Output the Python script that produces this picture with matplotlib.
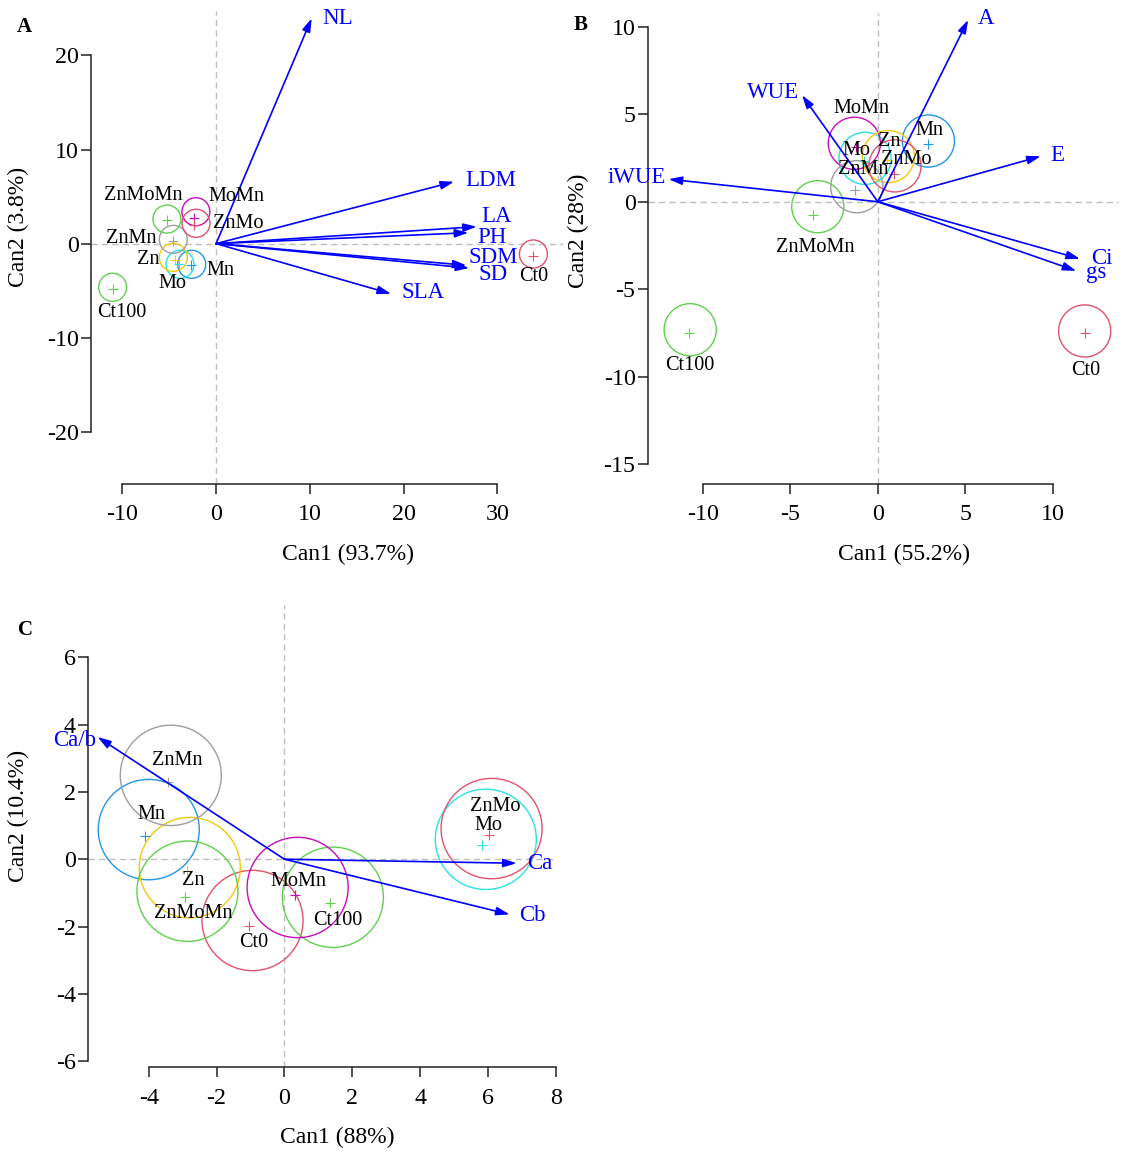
import matplotlib
matplotlib.use('Agg')
import matplotlib.pyplot as plt
from matplotlib.patches import Ellipse

plt.rcParams['font.family'] = ['Liberation Serif', 'DejaVu Serif']
plt.rcParams['axes.unicode_minus'] = False

# groups (alphabetical, R palette recycled)
groups = ['Ct0', 'Ct100', 'Mn', 'Mo', 'MoMn', 'Zn', 'ZnMn', 'ZnMo', 'ZnMoMn']
group_colors = ['#DF536B', '#61D04F', '#2297E6', '#28E2E5', '#CD0BBC',
                '#F5C710', '#9E9E9E', '#DF536B', '#61D04F']
radius = 1.49

# ---- panel A: growth traits ----
a_circle_x = [33.84, -11.03, -2.60, -3.85, -2.15, -4.56, -4.56, -2.14, -5.24]
a_circle_y = [-1.10, -4.64, -2.20, -2.20, 3.39, -1.46, 0.45, 2.16, 2.61]
a_point_x = [33.84, -11.03, -2.71, -3.93, -2.36, -4.38, -4.63, -2.36, -5.24]
a_point_y = [-1.32, -4.83, -2.27, -2.20, 2.75, -1.74, 0.28, 1.98, 2.51]
a_label_x = [33.84, -10.10, 0.50, -4.68, 2.20, -7.23, -9.00, 2.37, -7.80]
a_label_y = [-3.52, -7.34, -2.81, -4.22, 5.06, -1.67, 0.56, 2.16, 5.16]
a_vars = ['NL', 'LDM', 'LA', 'PH', 'SDM', 'SD', 'SLA']
a_vec_x = [10.20, 25.38, 27.80, 26.90, 26.70, 27.00, 18.66]
a_vec_y = [23.95, 6.58, 1.80, 1.16, -2.30, -2.60, -5.33]
a_vlab_x = [13.00, 29.27, 29.86, 29.40, 29.57, 29.59, 22.07]
a_vlab_y = [23.88, 6.76, 2.86, 0.67, -1.46, -3.23, -5.22]
a_xticks = [-10, 0, 10, 20, 30]
a_yticks = [-20, -10, 0, 10, 20]

# ---- panel B: gas exchange ----
b_circle_x = [11.82, -10.72, 2.89, -0.73, -1.34, 0.60, -1.20, 0.98, -3.43]
b_circle_y = [-7.38, -7.31, 3.47, 2.48, 3.34, 2.58, 0.86, 2.05, -0.28]
b_point_x = [11.86, -10.77, 2.85, -0.80, -1.25, 0.55, -1.30, 0.93, -3.69]
b_point_y = [-7.48, -7.48, 3.30, 2.30, 3.15, 2.40, 0.67, 1.57, -0.75]
b_label_x = [11.86, -10.77, 2.95, -1.21, -0.92, 0.63, -0.86, 1.62, -3.57]
b_label_y = [-9.66, -9.35, 4.06, 2.92, 5.34, 3.43, 1.82, 2.43, -2.60]
b_vars = ['A', 'WUE', 'iWUE', 'E', 'Ci', 'gs']
b_vec_x = [5.16, -4.33, -11.95, 9.31, 11.55, 11.34]
b_vec_y = [10.39, 6.09, 1.29, 2.60, -3.26, -3.95]
b_vlab_x = [6.21, -5.99, -13.75, 10.24, 12.79, 12.48]
b_vlab_y = [10.45, 6.23, 1.39, 2.64, -3.22, -4.05]
b_xticks = [-10, -5, 0, 5, 10]
b_yticks = [-15, -10, -5, 0, 5, 10]

# ---- panel C: chlorophyll ----
c_circle_x = [-0.94, 1.43, -4.00, 5.94, 0.39, -2.79, -3.35, 6.11, -2.86]
c_circle_y = [-1.82, -1.13, 0.88, 0.59, -0.84, -0.25, 2.49, 0.91, -0.95]
c_point_x = [-1.04, 1.34, -4.10, 5.84, 0.30, -2.86, -3.42, 6.02, -2.94]
c_point_y = [-1.98, -1.31, 0.70, 0.42, -1.05, -0.34, 2.28, 0.72, -1.11]
c_label_x = [-0.90, 1.57, -3.92, 6.02, 0.41, -2.70, -3.17, 6.23, -2.70]
c_label_y = [-2.47, -1.82, 1.32, 1.00, -0.65, -0.63, 2.92, 1.57, -1.61]
c_vars = ['Ca/b', 'Ca', 'Cb']
c_vec_x = [-5.51, 6.85, 6.64]
c_vec_y = [3.63, -0.12, -1.64]
c_vlab_x = [-6.19, 7.54, 7.32]
c_vlab_y = [3.54, -0.12, -1.66]
c_xticks = [-4, -2, 0, 2, 4, 6, 8]
c_yticks = [-6, -4, -2, 0, 2, 4, 6]

W, H = 1128, 1158
fig = plt.figure(figsize=(W / 100, H / 100), dpi=100)


def fig_text(x, y, s, **kw):
    fig.text(x / W, 1 - y / H, s, **kw)


def panel(box, xlim, ylim, xticks, yticks,
          cx, cy, px, py, lx, ly,
          vnames, vx, vy, vlx, vly):
    l, t, r, b = box
    ax = fig.add_axes([l / W, 1 - b / H, (r - l) / W, (b - t) / H])
    ax.set_xlim(*xlim)
    ax.set_ylim(*ylim)
    ax.patch.set_visible(False)
    for s in ['top', 'right']:
        ax.spines[s].set_visible(False)
    ax.spines['left'].set_bounds(yticks[0], yticks[-1])
    ax.spines['bottom'].set_bounds(xticks[0], xticks[-1])
    for s in ['left', 'bottom']:
        ax.spines[s].set_linewidth(1.1)
        ax.spines[s].set_color('#222222')
    ax.set_xticks(xticks)
    ax.set_yticks(yticks)
    ax.tick_params(axis='both', direction='out', length=7.5, width=1.1,
                   color='#222222', labelsize=17.3)
    ax.tick_params(axis='x', pad=7.5)
    ax.tick_params(axis='y', pad=1.5)

    ax.axhline(0, color='#BEBEBE', lw=1.0, ls=(0, (4.5, 3)), zorder=1)
    ax.axvline(0, color='#BEBEBE', lw=1.0, ls=(0, (4.5, 3)), zorder=1)

    for i, g in enumerate(groups):
        ax.add_patch(Ellipse((cx[i], cy[i]), 2 * radius, 2 * radius,
                             fill=False, ec=group_colors[i], lw=1.0, zorder=2))
        ax.plot(px[i], py[i], marker='+', ms=7, mew=0.8,
                color=group_colors[i], zorder=3)

    for i, v in enumerate(vnames):
        ax.annotate('', xy=(vx[i], vy[i]), xytext=(0, 0),
                    arrowprops=dict(arrowstyle='-|>,head_length=0.8,head_width=0.25',
                                    color='blue', lw=1.2, shrinkA=0, shrinkB=0,
                                    mutation_scale=10),
                    zorder=4)
        ax.text(vlx[i], vly[i], v, color='blue', fontsize=16.5,
                ha='center', va='center', clip_on=False, zorder=6)

    for i, g in enumerate(groups):
        ax.text(lx[i], ly[i], g, color='black', fontsize=14.6,
                ha='center', va='center', clip_on=False, zorder=5)
    return ax


panel((91, 11, 563, 483.6), (-13.34, 37.0), (-25.5, 24.72), a_xticks, a_yticks,
      a_circle_x, a_circle_y, a_point_x, a_point_y, a_label_x, a_label_y,
      a_vars, a_vec_x, a_vec_y, a_vlab_x, a_vlab_y)
panel((648, 12.7, 1119, 483.6), (-13.13, 13.78), (-16.1, 10.8), b_xticks, b_yticks,
      b_circle_x, b_circle_y, b_point_x, b_point_y, b_label_x, b_label_y,
      b_vars, b_vec_x, b_vec_y, b_vlab_x, b_vlab_y)
panel((88.4, 605, 556, 1067.3), (-5.78, 8.01), (-6.18, 7.55), c_xticks, c_yticks,
      c_circle_x, c_circle_y, c_point_x, c_point_y, c_label_x, c_label_y,
      c_vars, c_vec_x, c_vec_y, c_vlab_x, c_vlab_y)

# axis titles and panel letters
fig_text(348, 554.5, 'Can1 (93.7%)', fontsize=17, ha='center', va='center')
fig_text(18.8, 227, 'Can2 (3.8%)', fontsize=17, ha='center', va='center', rotation=90)
fig_text(904.2, 554.5, 'Can1 (55.2%)', fontsize=17, ha='center', va='center')
fig_text(578, 231, 'Can2 (28%)', fontsize=17, ha='center', va='center', rotation=90)
fig_text(337.5, 1137.4, 'Can1 (88%)', fontsize=17, ha='center', va='center')
fig_text(18, 816, 'Can2 (10.4%)', fontsize=17, ha='center', va='center', rotation=90)

fig_text(24.3, 27.3, 'A', fontsize=15, fontweight='bold', ha='center', va='center')
fig_text(581, 24.7, 'B', fontsize=15, fontweight='bold', ha='center', va='center')
fig_text(25.5, 630.2, 'C', fontsize=15, fontweight='bold', ha='center', va='center')

fig.savefig('out.png', dpi=100)
